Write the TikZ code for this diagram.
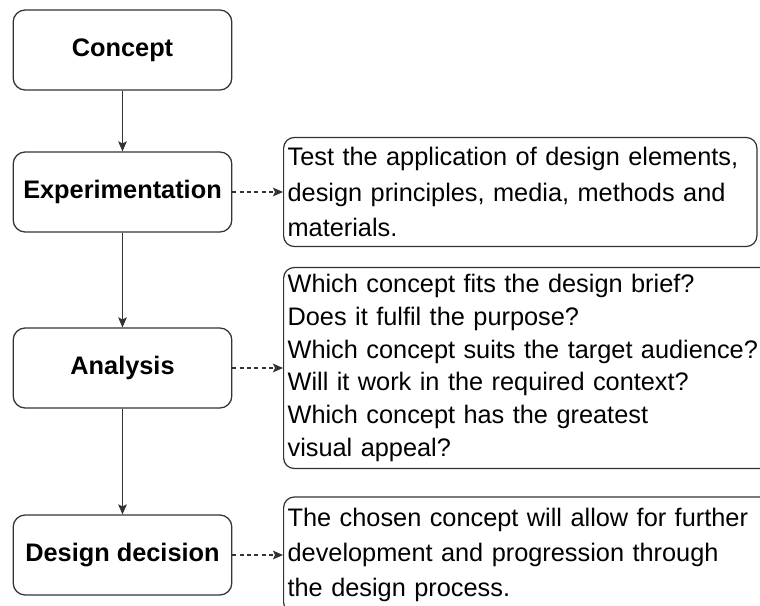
\documentclass[tikz,border=0pt]{standalone}
\usepackage{fontspec}
\setmainfont{Liberation Sans}
\usetikzlibrary{arrows.meta}
\definecolor{linegray}{HTML}{333333}
\tikzset{
    stagebox/.style={draw=linegray, line width=0.95pt, rounded corners=9pt,
        minimum width=164pt, minimum height=60pt,
        font=\fontsize{19}{22}\selectfont\bfseries},
    notebox/.style={draw=linegray, line width=0.9pt, rounded corners=8pt,
        anchor=west, align=left, inner xsep=3pt, inner ysep=2pt,
        font=\fontsize{19}{26.5}\selectfont},
    flow/.style={draw=linegray, line width=0.9pt, -{Stealth[length=7.5pt,width=6.5pt,inset=1.5pt]}},
    aside/.style={flow, dash pattern=on 3pt off 2.5pt}
}

\begin{document}
\begin{tikzpicture}[x=0.75pt, y=-0.75pt]
    \path[use as bounding box, clip] (0,0) rectangle (760,606);
    % The stages on the left.
        \node[stagebox] (concept) at (122.5, 50) {Concept};
        \node[stagebox] (experiment) at (122.5, 192) {Experimentation};
        \node[stagebox] (analysis) at (122.5, 368) {Analysis};
        \node[stagebox] (decision) at (122.5, 555) {Design decision};
    % The notes on the right.
        \node[notebox, text width=349pt, minimum height=81.75pt] (testnote) at (283, 192)
            {Test the application of design elements,\\
             design principles, media, methods and\\
             materials.};
        \node[notebox, text width=380pt, minimum height=150.75pt,
              font=\fontsize{19}{24.5}\selectfont] (analysisnote) at (283, 368)
            {Which concept fits the design brief?\\
             Does it fulfil the purpose?\\
             Which concept suits the target audience?\\
             Will it work in the required context?\\
             Which concept has the greatest\\
             visual appeal?};
        \node[notebox, text width=372pt, minimum height=87pt] (decisionnote) at (283, 555)
            {The chosen concept will allow for further\\
             development and progression through\\
             the design process.};
    % Arrows down the stages.
        \draw[flow] (concept) -- (experiment);
        \draw[flow] (experiment) -- (analysis);
        \draw[flow] (analysis) -- (decision);
    % Dashed arrows to the notes.
        \draw[aside] (experiment) -- (testnote);
        \draw[aside] (analysis) -- (analysisnote);
        \draw[aside] (decision) -- (decisionnote);
\end{tikzpicture}
\end{document}
